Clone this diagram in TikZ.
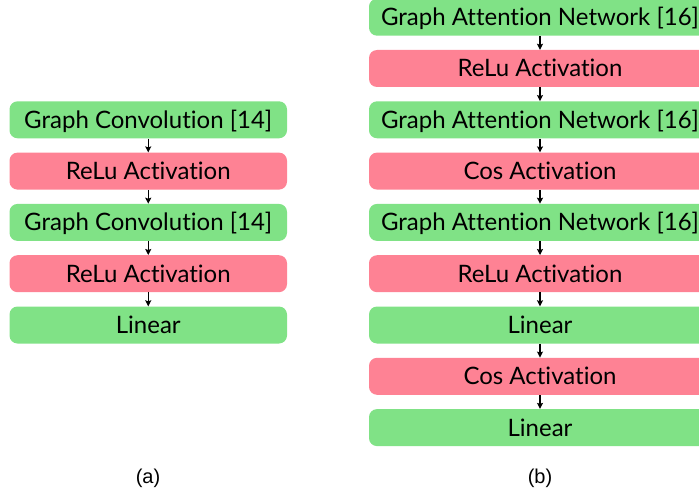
\documentclass[tikz,border=0pt]{standalone}
\usepackage{fontspec}
\setmainfont[Ligatures=NoCommon]{Lato}
\newfontfamily\labfont{Liberation Sans}
\usetikzlibrary{arrows.meta}
\definecolor{gbox}{RGB}{128,226,134}
\definecolor{pbox}{RGB}{254,130,148}
\begin{document}
\begin{tikzpicture}[x=1pt,y=-1pt,
  layer/.style={rounded corners=8pt, minimum height=37pt, inner sep=0pt, font=\fontsize{24}{28}\selectfont, text=black, text height=17pt, text depth=0pt},
  gl/.style={layer, fill=gbox},
  pl/.style={layer, fill=pbox},
  lw/.style={minimum width=277.5pt},
  rw/.style={minimum width=342pt},
  conn/.style={-{Stealth[length=6pt,width=6pt,inset=1pt]}, line width=1.1pt}
]
\useasboundingbox (0,0) rectangle (699,495);
\clip (0,0) rectangle (699,495);
% left column
\node[gl,lw] (a1) at (148.25,119.8) {Graph Convolution [14]};
\node[pl,lw] (a2) at (148.25,171.1) {ReLu Activation};
\node[gl,lw] (a3) at (148.25,222.4) {Graph Convolution [14]};
\node[pl,lw] (a4) at (148.25,273.7) {ReLu Activation};
\node[gl,lw] (a5) at (148.25,325.0) {Linear};
\foreach \i/\j in {a1/a2,a2/a3,a3/a4,a4/a5} \draw[conn] (\i) -- (\j);
% right column
\node[gl,rw] (b1) at (540,17.2) {Graph Attention Network [16]};
\node[pl,rw] (b2) at (540,68.5) {ReLu Activation};
\node[gl,rw] (b3) at (540,119.8) {Graph Attention Network [16]};
\node[pl,rw] (b4) at (540,171.1) {Cos Activation};
\node[gl,rw] (b5) at (540,222.4) {Graph Attention Network [16]};
\node[pl,rw] (b6) at (540,273.7) {ReLu Activation};
\node[gl,rw] (b7) at (540,325.0) {Linear};
\node[pl,rw] (b8) at (540,376.3) {Cos Activation};
\node[gl,rw] (b9) at (540,427.6) {Linear};
\foreach \i/\j in {b1/b2,b2/b3,b3/b4,b4/b5,b5/b6,b6/b7,b7/b8,b8/b9} \draw[conn] (\i) -- (\j);
% captions
\node[font=\labfont\fontsize{20}{24}\selectfont] (la) at (148,478) {(a)};
\node[font=\labfont\fontsize{20}{24}\selectfont] (lb) at (540,478) {(b)};
\end{tikzpicture}
\end{document}
